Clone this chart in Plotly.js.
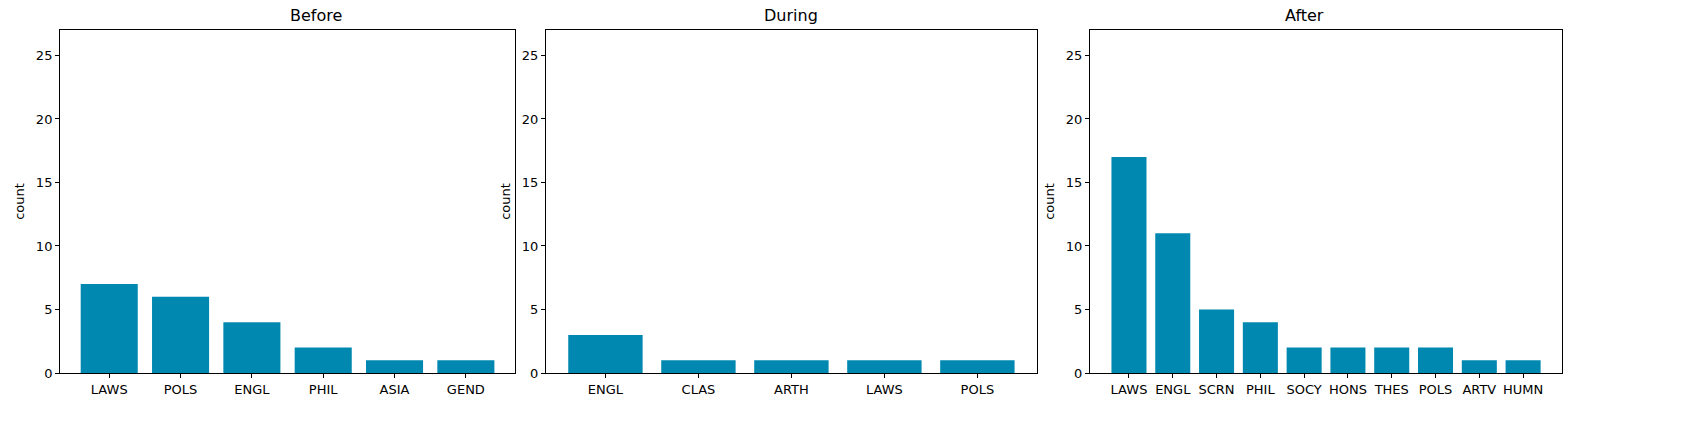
<!DOCTYPE html>
<html><head><script src="https://cdn.plot.ly/plotly-3.0.1.min.js"></script></head>
<body style="margin:0">
<div id="c" style="width:1686px;height:435px"></div>
<script>
const beforeCats=["LAWS","POLS","ENGL","PHIL","ASIA","GEND"];
const beforeVals=[7,6,4,2,1,1];
const duringCats=["ENGL","CLAS","ARTH","LAWS","POLS"];
const duringVals=[3,1,1,1,1];
const afterCats=["LAWS","ENGL","SCRN","PHIL","SOCY","HONS","THES","POLS","ARTV","HUMN"];
const afterVals=[17,11,5,4,2,2,2,2,1,1];
const titles=["Before","During","After"];
const color="#0088b0";
const sets=[[beforeCats,beforeVals],[duringCats,duringVals],[afterCats,afterVals]];
const doms=[[0.0356,0.3055],[0.3238,0.615],[0.6465,0.9265]];
const font={family:"DejaVu Sans",size:13,color:"#000"};
const traces=[],layout={width:1686,height:435,margin:{l:0,r:0,t:0,b:0},showlegend:false,
 paper_bgcolor:"#fff",plot_bgcolor:"#fff",font:font,annotations:[]};
sets.forEach((s,i)=>{
 const n=s[0].length, sfx=i?String(i+1):"";
 traces.push({type:"bar",x:s[0],y:s[1],marker:{color:color},width:0.8,xaxis:"x"+sfx,yaxis:"y"+sfx});
 const pad=0.05*(n-1+0.8);
 layout["xaxis"+(sfx)]={domain:doms[i],anchor:"y"+sfx,range:[-0.4-pad,n-0.6+pad],showline:true,mirror:true,linecolor:"#000",
  ticks:"outside",ticklen:4,tickcolor:"#000",showgrid:false,zeroline:false,tickfont:{size:13}};
 layout["yaxis"+(sfx)]={domain:[0.1425,0.931],anchor:"x"+sfx,range:[0,27],tickvals:[0,5,10,15,20,25],showline:true,mirror:true,linecolor:"#000",
  ticks:"outside",ticklen:4,tickcolor:"#000",showgrid:false,zeroline:false,tickfont:{size:13},
  title:{text:"count",font:{size:13},standoff:8}};
 layout.annotations.push({text:titles[i],xref:"paper",yref:"paper",x:(doms[i][0]+doms[i][1])/2,y:0.931,yanchor:"bottom",yshift:3,showarrow:false,font:{size:16}});
});
Plotly.newPlot("c",traces,layout,{displayModeBar:false});
</script></body></html>
